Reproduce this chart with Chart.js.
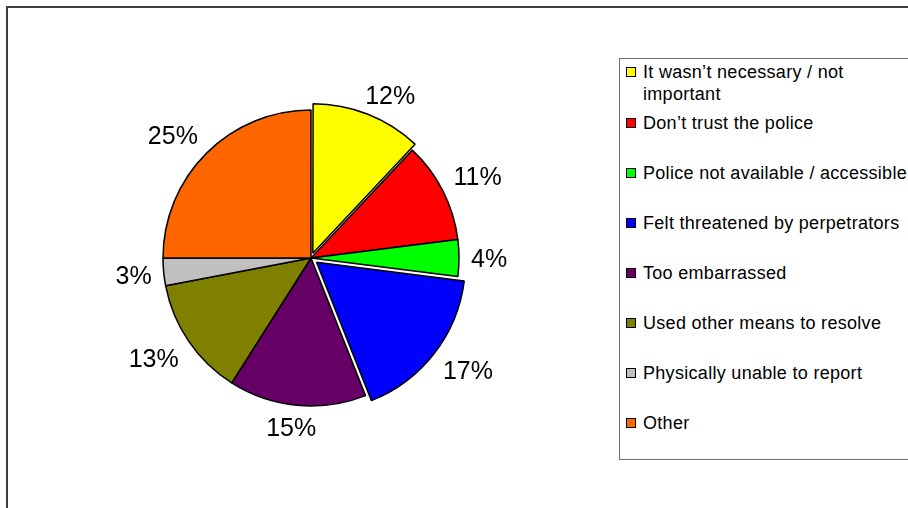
<!DOCTYPE html>
<html>
<head>
<meta charset="utf-8">
<script src="https://cdn.jsdelivr.net/npm/chart.js@4.4.1/dist/chart.umd.min.js"></script>
<style>
  html, body { margin: 0; padding: 0; background: #fff; width: 908px; height: 508px; overflow: hidden; }
  #wrap { position: relative; width: 908px; height: 508px; }
  #pie { position: absolute; left: 0; top: 0; }
  #frame {
    position: absolute; left: 6px; top: 6px; width: 1000px; height: 1000px;
    border: 2px solid #3c3c3c; pointer-events: none;
  }
  #legend {
    position: absolute; left: 619px; top: 58px; width: 340px; height: 402px;
    box-sizing: border-box; border: 1px solid #707070; background: #fff;
    padding: 2px 0 0 6px;
    font-family: "Liberation Sans", Arial, sans-serif; font-size: 18px; color: #000;
    line-height: 22px; letter-spacing: 0.3px;
  }
  .item { display: flex; align-items: flex-start; margin-bottom: 28px; }
  .item:first-child { margin-bottom: 7px; }
  .sw { flex: none; width: 8px; height: 8px; border: 1px solid #000; margin: 6px 7px 0 0; }
  .tx { max-width: 276px; }
</style>
</head>
<body>
<div id="wrap">
  <canvas id="pie" width="908" height="508"></canvas>
  <div id="legend"></div>
  <div id="frame"></div>
</div>
<script>
// Reasons for not reporting to the police (share of respondents, %)
const categories = [
  "It wasn’t necessary / not important",
  "Don’t trust the police",
  "Police not available / accessible",
  "Felt threatened by perpetrators",
  "Too embarrassed",
  "Used other means to resolve",
  "Physically unable to report",
  "Other"
];
const shares = [12, 11, 4, 17, 15, 13, 3, 25];

const sliceColors = ["#FFFF00", "#FF0000", "#00FF00", "#0000FF", "#660066", "#808000", "#C0C0C0", "#FF6600"];
// pulled-out distance of each slice, in pixels
const explode = [5, 0, 0, 7, 0, 0, 0, 0];

// Percentage labels placed just outside each slice
const outsideLabels = {
  id: "outsideLabels",
  afterDatasetsDraw(chart) {
    const ctx = chart.ctx;
    const meta = chart.getDatasetMeta(0);
    const fontSize = 25;
    const capH = fontSize * 0.716;
    const gap = 12;
    ctx.save();
    ctx.font = fontSize + 'px "Liberation Sans", Arial, sans-serif';
    ctx.fillStyle = "#000";
    ctx.textAlign = "center";
    ctx.textBaseline = "alphabetic";
    const clamp = v => Math.max(-1, Math.min(1, v));
    meta.data.forEach((arc, i) => {
      const p = arc.getProps(["x", "y", "startAngle", "endAngle", "outerRadius"], true);
      const mid = (p.startAngle + p.endAngle) / 2;
      const dist = p.outerRadius + explode[i] + gap;
      const c = Math.cos(mid), s = Math.sin(mid);
      const text = shares[i] + "%";
      const w = ctx.measureText(text).width;
      const cx = p.x + c * dist + (w / 2) * clamp(c * 2);
      const cy = p.y + s * dist + (capH / 2 + 1) * clamp(s * 2);
      ctx.fillText(text, cx, cy + capH / 2);
    });
    ctx.restore();
  }
};

new Chart(document.getElementById("pie"), {
  type: "pie",
  data: {
    labels: categories,
    datasets: [{
      data: shares,
      backgroundColor: sliceColors,
      borderColor: "#000",
      borderWidth: 1.5,
      // the arc element moves a slice by a quarter of its offset option
      offset: explode.map(v => v * 4)
    }]
  },
  options: {
    responsive: false,
    animation: false,
    radius: 148,
    layout: { padding: { left: 0, right: 286, top: 8, bottom: 0 } },
    plugins: {
      legend: { display: false },
      tooltip: { enabled: false }
    },
    events: []
  },
  plugins: [outsideLabels]
});

// Legend on the right
const legend = document.getElementById("legend");
categories.forEach((name, i) => {
  const item = document.createElement("div");
  item.className = "item";
  const sw = document.createElement("span");
  sw.className = "sw";
  sw.style.background = sliceColors[i];
  const tx = document.createElement("span");
  tx.className = "tx";
  tx.textContent = name;
  item.appendChild(sw);
  item.appendChild(tx);
  legend.appendChild(item);
});
</script>
</body>
</html>
